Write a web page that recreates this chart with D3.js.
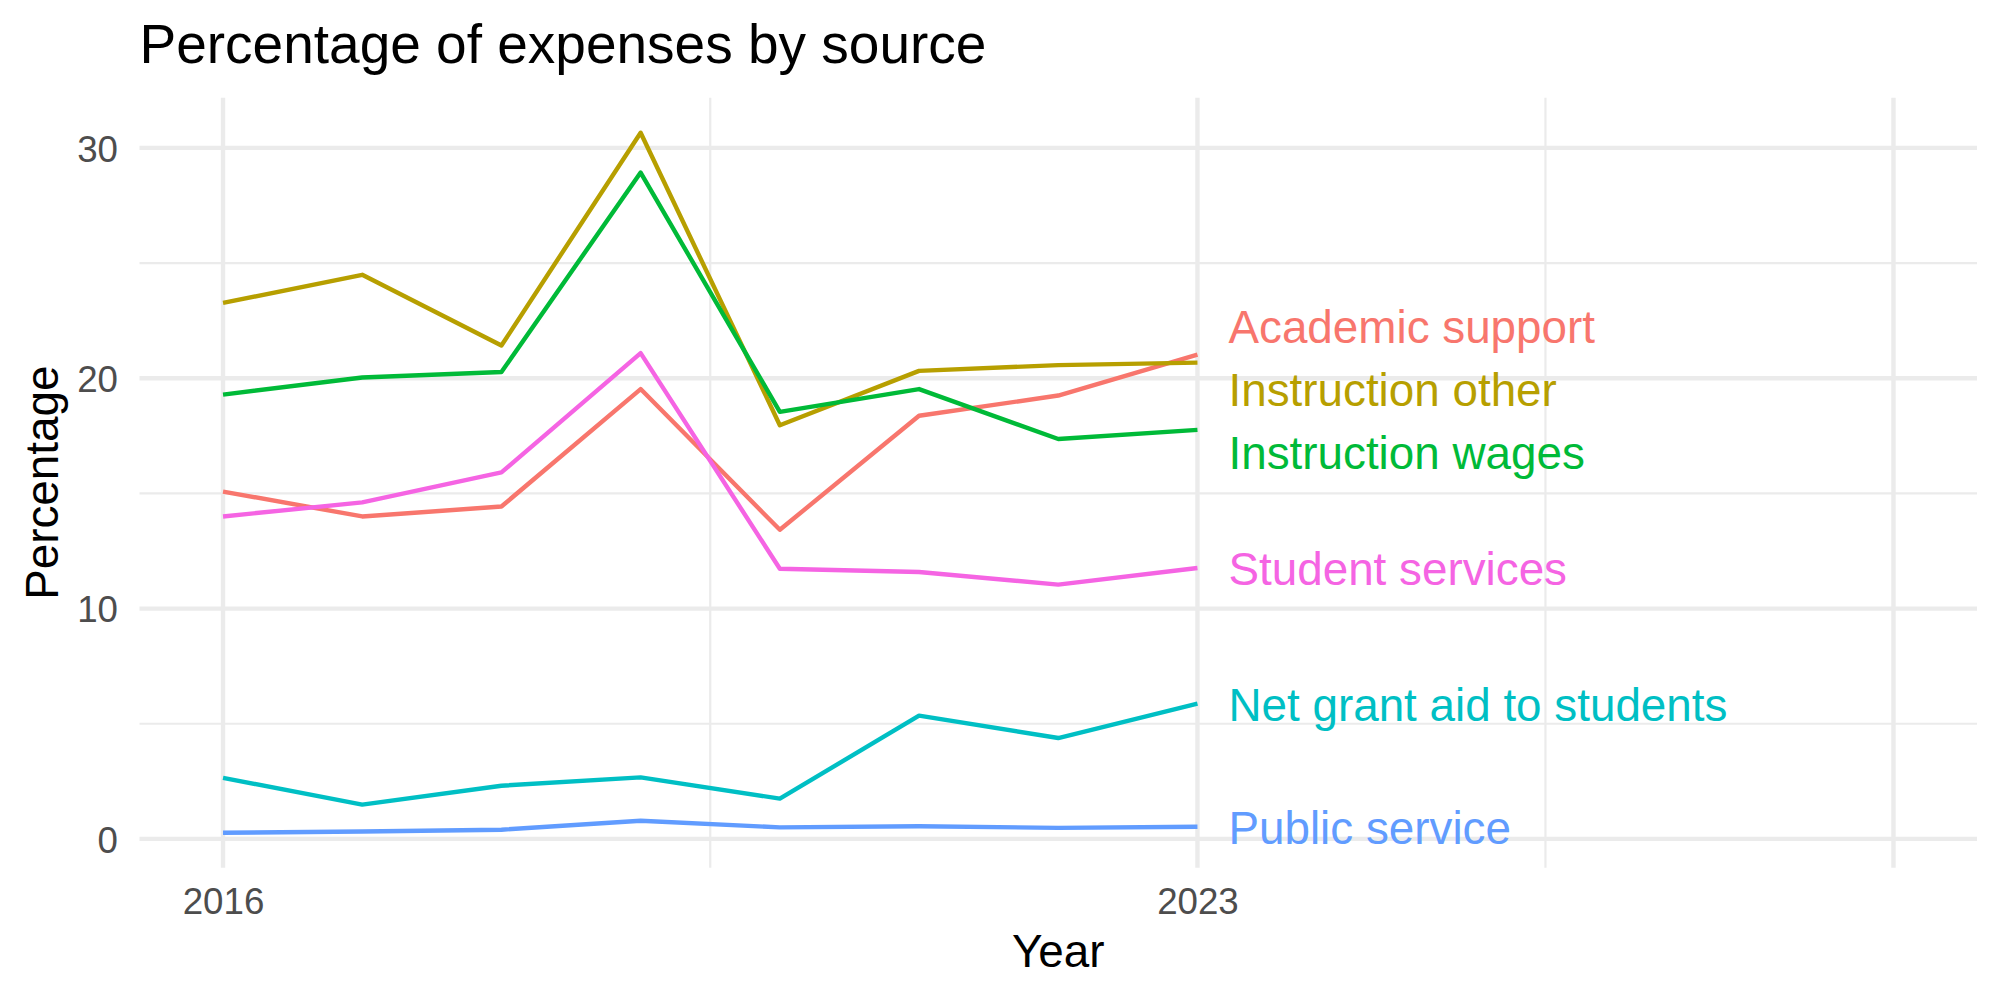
<!DOCTYPE html>
<html>
<head>
<meta charset="utf-8">
<script src="https://cdn.jsdelivr.net/npm/d3@7/dist/d3.min.js"></script>
<style>
	body { margin: 0; background: #ffffff; }
	svg text { font-family: "Liberation Sans", Arial, Helvetica, sans-serif; }
</style>
</head>
<body>
<svg id="chart" width="2000" height="1000"></svg>
<script>
//data
var years = [2016, 2017, 2018, 2019, 2020, 2021, 2022, 2023];
var sources = ["Academic support", "Instruction other", "Instruction wages",
	"Net grant aid to students", "Public service", "Student services"];

var academicSupport = [15.08, 14.00, 14.43, 19.53, 13.42, 18.37, 19.25, 21.03];
var instructionOther = [23.27, 24.49, 21.42, 30.66, 17.96, 20.32, 20.57, 20.68];
var instructionWages = [19.29, 20.03, 20.27, 28.93, 18.54, 19.53, 17.36, 17.76];
var netGrantAid = [2.65, 1.49, 2.31, 2.67, 1.75, 5.35, 4.38, 5.87];
var publicService = [0.27, 0.32, 0.40, 0.79, 0.50, 0.55, 0.48, 0.53];
var studentServices = [14.00, 14.61, 15.91, 21.09, 11.73, 11.59, 11.04, 11.76];

//label heights after spreading them apart, same order as sources
var labelValues = [22.23, 19.50, 16.76, 5.85, 0.51, 11.73];

var yTicks = [0, 10, 20, 30];
var yMinorTicks = [5, 15, 25];
var xTicks = [2016, 2023, 2028];
var xTickLabels = ["2016", "2023", ""];
var xMinorTicks = [2019.5, 2025.5];
var xLimits = [2016, 2028];

var colors = ["#F8766D", "#B79F00", "#00BA38", "#00BFC4", "#619CFF", "#F564E3"];

var series = [academicSupport, instructionOther, instructionWages, netGrantAid, publicService, studentServices];

//layout
var panel = { left: 139.5, right: 1977, top: 97.7, bottom: 867.7 };
var gridColor = "#EBEBEB";
var tickColor = "#4D4D4D";

var svg = d3.select("#chart");

//scales, 5% expansion like ggplot
var allValues = d3.merge(series);
var yMin = d3.min(allValues), yMax = d3.max(allValues);
var yPad = (yMax - yMin) * 0.05;
var xPad = (xLimits[1] - xLimits[0]) * 0.05;

var x = d3.scaleLinear()
	.domain([xLimits[0] - xPad, xLimits[1] + xPad])
	.range([panel.left, panel.right]);

var y = d3.scaleLinear()
	.domain([yMin - yPad, yMax + yPad])
	.range([panel.bottom, panel.top]);

//grid
var grid = svg.append("g");

grid.selectAll("line.yminor")
	.data(yMinorTicks)
	.enter()
	.append("line")
	.attr("x1", panel.left).attr("x2", panel.right)
	.attr("y1", function(d) { return y(d); })
	.attr("y2", function(d) { return y(d); })
	.attr("stroke", gridColor)
	.attr("stroke-width", 2.2);

grid.selectAll("line.xminor")
	.data(xMinorTicks)
	.enter()
	.append("line")
	.attr("y1", panel.top).attr("y2", panel.bottom)
	.attr("x1", function(d) { return x(d); })
	.attr("x2", function(d) { return x(d); })
	.attr("stroke", gridColor)
	.attr("stroke-width", 2.2);

grid.selectAll("line.ymajor")
	.data(yTicks)
	.enter()
	.append("line")
	.attr("x1", panel.left).attr("x2", panel.right)
	.attr("y1", function(d) { return y(d); })
	.attr("y2", function(d) { return y(d); })
	.attr("stroke", gridColor)
	.attr("stroke-width", 4.4);

grid.selectAll("line.xmajor")
	.data(xTicks)
	.enter()
	.append("line")
	.attr("y1", panel.top).attr("y2", panel.bottom)
	.attr("x1", function(d) { return x(d); })
	.attr("x2", function(d) { return x(d); })
	.attr("stroke", gridColor)
	.attr("stroke-width", 4.4);

//axes (text only, theme_minimal has no axis lines)
var yAxis = d3.axisLeft(y).tickValues(yTicks).tickSize(0).tickPadding(21.5);
var yAxisG = svg.append("g")
	.attr("transform", "translate(" + panel.left + ",0)")
	.call(yAxis);

var xAxis = d3.axisBottom(x).tickValues(xTicks)
	.tickFormat(function(d, i) { return xTickLabels[i]; })
	.tickSize(0).tickPadding(20.5);
var xAxisG = svg.append("g")
	.attr("transform", "translate(0," + panel.bottom + ")")
	.call(xAxis);

svg.selectAll(".domain").remove();
svg.selectAll(".tick text")
	.attr("font-family", "Liberation Sans, Arial, Helvetica, sans-serif")
	.attr("font-size", 36.7)
	.attr("fill", tickColor);
yAxisG.selectAll(".tick text").attr("dy", "0.358em");
xAxisG.selectAll(".tick text").attr("dy", "0.716em");

//lines
var line = d3.line()
	.x(function(d, i) { return x(years[i]); })
	.y(function(d) { return y(d); });

svg.append("g")
	.selectAll("path")
	.data(series)
	.enter()
	.append("path")
	.attr("d", line)
	.attr("fill", "none")
	.attr("stroke", function(d, i) { return colors[i]; })
	.attr("stroke-width", 4.4)
	.attr("stroke-linejoin", "round");

//labels at the end of the lines
var labelX = x(years[years.length - 1]) + 31;
svg.append("g")
	.selectAll("text")
	.data(sources)
	.enter()
	.append("text")
	.text(function(d) { return d; })
	.attr("x", labelX)
	.attr("y", function(d, i) { return y(labelValues[i]); })
	.attr("dy", "0.358em")
	.attr("font-size", 45.8)
	.attr("fill", function(d, i) { return colors[i]; });

//titles
svg.append("text")
	.text("Percentage of expenses by source")
	.attr("x", panel.left)
	.attr("y", 63)
	.attr("font-size", 55)
	.attr("fill", "#000000");

svg.append("text")
	.text("Year")
	.attr("x", (panel.left + panel.right) / 2)
	.attr("y", 967)
	.attr("text-anchor", "middle")
	.attr("font-size", 45.8)
	.attr("fill", "#000000");

svg.append("text")
	.text("Percentage")
	.attr("transform", "translate(58," + (panel.top + panel.bottom) / 2 + ") rotate(-90)")
	.attr("text-anchor", "middle")
	.attr("font-size", 45.8)
	.attr("fill", "#000000");
</script>
</body>
</html>
